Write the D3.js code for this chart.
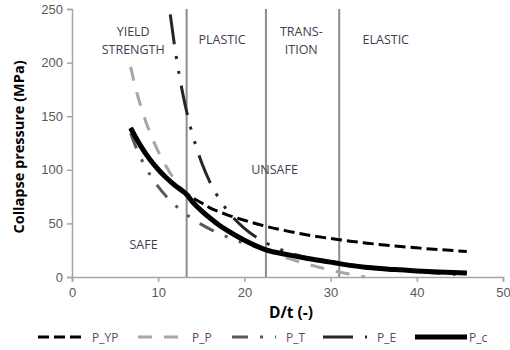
<!DOCTYPE html>
<html>
<head>
<meta charset="utf-8">
<script src="https://cdn.jsdelivr.net/npm/d3@7"></script>
<style>
  body { margin: 0; background: #fff; }
  svg { font-family: 'Open Sans', sans-serif; }
</style>
</head>
<body>
<svg id="chart" width="510" height="350"></svg>
<script>
const dt = [6.8, 7.5, 8, 9, 10, 11, 11.4, 12, 13, 13.3, 14, 15, 16, 17, 18, 20, 22.5, 25, 27.5, 30, 31, 32.5, 34, 35, 37.5, 40, 42.5, 45.8];

// collapse pressure (MPa), null where the curve is not drawn
const pYP = [139, 128.7, 121.8, 110, 100.3, 92.1, 89.1, 85.1, 79.1, 77.5, 73.9, 69.3, 64.5, 61, 58, 52.9, 47.3, 42.8, 39, 35.9, 34.8, 33.2, 31.8, 30.9, 28.9, 27.2, 25.6, 23.8];
const pP = [196, 172.5, 158.7, 135.6, 117.2, 102.1, 96.8, 89.5, 78.9, 76, 69.8, 61.9, 55, 48.8, 43.4, 34.2, 25, 17.6, 11.6, 6.5, 4.7, 2.3, 0, null, null, null, null, null];
const pT = [134, 119.5, 110.7, 96, 84.3, 74.7, 71.3, 66.7, 59.9, 58.1, 54.1, 49.1, 44.7, 40.8, 37.4, 31.5, 25.6, 20.9, 17.1, 13.9, 12.8, 11.2, 9.8, 8.9, 6.9, 5.1, 3.5, 1.8];
const pE = [null, null, null, null, null, null, 245, 210, 165.2, 154.3, 132.3, 107.6, 88.6, 73.9, 62.2, 45.4, 31.9, 23.2, 17.5, 13.4, 12.2, 10.6, 9.2, 8.5, 6.9, 5.7, 4.7, 3.8];
const pC = [139, 128.7, 121.8, 110, 100.3, 92.1, 89.1, 85.1, 79.1, 77, 69.8, 61.9, 55, 48.8, 43.4, 34.2, 25.3, 20.9, 17.1, 13.9, 12.5, 10.6, 9.2, 8.5, 6.9, 5.7, 4.7, 3.8];

const xTicks = [0, 10, 20, 30, 40, 50];
const yTicks = [0, 50, 100, 150, 200, 250];

// region boundaries (D/t) and region names
const boundaries = [13.3, 22.5, 31];
const regionNames = [['YIELD', 'STRENGTH'], ['PLASTIC'], ['TRANS-', 'ITION'], ['ELASTIC']];
const regionX = [7.1, 17.4, 26.6, 36.4];
const zoneNames = ['SAFE', 'UNSAFE'];
const zoneX = [8.3, 23.5];
const zoneY = [30, 100];

const seriesNames = ['P_YP', 'P_P', 'P_T', 'P_E', 'P_c'];

const series = [
  { name: 'P_YP', values: pYP, color: '#000', width: 3, dash: '11,5' },
  { name: 'P_P', values: pP, color: '#a6a6a6', width: 3, dash: '14,12' },
  { name: 'P_T', values: pT, color: '#595959', width: 3, dash: '16,12,3,12,3,12' },
  { name: 'P_E', values: pE, color: '#262626', width: 3, dash: '30,12,3,12,3,12' },
  { name: 'P_c', values: pC, color: '#000', width: 5, dash: null }
];

const svg = d3.select('#chart');
const width = 510;
const height = 350;

const marginLeft = 72;
const marginRight = 7;
const marginTop = 9;
const plotBottom = 277;

const x = d3.scaleLinear().domain([0, 50]).range([marginLeft, width - marginRight]);
const y = d3.scaleLinear().domain([0, 250]).range([plotBottom, marginTop]);

const axisColor = '#a6a6a6';
const labelColor = '#595959';

// y axis
const yAxis = svg.append('g')
  .attr('transform', `translate(${marginLeft},0)`)
  .call(d3.axisLeft(y).tickValues(yTicks).tickSize(5).tickPadding(4));
yAxis.select('.domain').attr('stroke', axisColor).attr('stroke-width', 1.5);
yAxis.selectAll('.tick line').attr('stroke', axisColor).attr('stroke-width', 1.5);
yAxis.selectAll('.tick text').attr('fill', labelColor).style('font-size', '13px');

// x axis
const xAxis = svg.append('g')
  .attr('transform', `translate(0,${plotBottom})`)
  .call(d3.axisBottom(x).tickValues(xTicks).tickSize(5).tickPadding(6));
xAxis.select('.domain').attr('stroke', axisColor).attr('stroke-width', 1.5);
xAxis.selectAll('.tick line').attr('stroke', axisColor).attr('stroke-width', 1.5);
xAxis.selectAll('.tick text').attr('fill', labelColor).style('font-size', '13px');

// region boundaries
svg.append('g')
  .selectAll('line')
  .data(boundaries)
  .join('line')
  .attr('x1', (d) => x(d))
  .attr('x2', (d) => x(d))
  .attr('y1', y(0))
  .attr('y2', y(250))
  .attr('stroke', '#8c8c8c')
  .attr('stroke-width', 2);

// region names
const textColor = '#404050';
regionNames.forEach((lines, i) => {
  const t = svg.append('text')
    .attr('x', x(regionX[i]))
    .attr('y', lines.length > 1 ? 36 : 44)
    .attr('text-anchor', 'middle')
    .attr('fill', textColor)
    .style('font-size', '12.5px');
  lines.forEach((l, j) => {
    t.append('tspan').attr('x', x(regionX[i])).attr('dy', j == 0 ? 0 : 18).text(l);
  });
});

zoneNames.forEach((name, i) => {
  svg.append('text')
    .attr('x', x(zoneX[i]))
    .attr('y', y(zoneY[i]) + 4)
    .attr('text-anchor', 'middle')
    .attr('fill', textColor)
    .style('font-size', '12.5px')
    .text(name);
});

// curves
const line = d3.line()
  .defined((d) => d[1] != null)
  .x((d) => x(d[0]))
  .y((d) => y(d[1]))
  .curve(d3.curveMonotoneX);

svg.append('g')
  .selectAll('path')
  .data(series)
  .join('path')
  .attr('d', (s) => line(dt.map((v, i) => [v, s.values[i]])))
  .attr('fill', 'none')
  .attr('stroke', (s) => s.color)
  .attr('stroke-width', (s) => s.width)
  .attr('stroke-dasharray', (s) => s.dash);

// axis titles
svg.append('text')
  .attr('transform', `translate(24,${(marginTop + plotBottom) / 2 + 4}) rotate(-90)`)
  .attr('text-anchor', 'middle')
  .attr('fill', '#000')
  .style('font-size', '14.5px')
  .style('font-weight', 'bold')
  .text('Collapse pressure (MPa)');

svg.append('text')
  .attr('x', 291)
  .attr('y', 318)
  .attr('text-anchor', 'middle')
  .attr('fill', '#000')
  .style('font-size', '15.5px')
  .style('font-weight', 'bold')
  .text('D/t (-)');

// legend
const legendX = [38, 138, 232, 323, 415];
const legendY = 337;
const legend = svg.append('g')
  .selectAll('g')
  .data(series)
  .join('g')
  .attr('transform', (d, i) => `translate(${legendX[i]},${legendY})`);

legend.append('line')
  .attr('x1', 0)
  .attr('x2', (d) => (d.name == 'P_c' ? 52 : 44))
  .attr('y1', 0)
  .attr('y2', 0)
  .attr('stroke', (d) => d.color)
  .attr('stroke-width', (d) => d.width)
  .attr('stroke-dasharray', (d) => d.dash);

legend.append('text')
  .attr('x', (d) => (d.name == 'P_c' ? 54 : 54))
  .attr('y', 4.5)
  .attr('fill', '#6b3f66')
  .style('font-size', '12px')
  .text((d, i) => seriesNames[i]);
</script>
</body>
</html>
